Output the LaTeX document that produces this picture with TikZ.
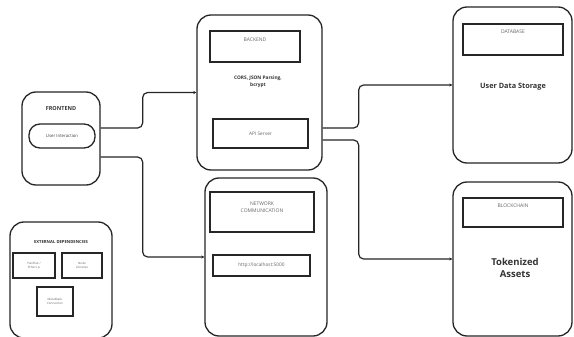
\documentclass[tikz,border=0pt]{standalone}
\usepackage{fontspec}
\setmainfont{Open Sans}
\usetikzlibrary{arrows.meta}
\tikzset{
  x=1pt, y=-1pt,
  panel/.style={draw=black!85, line width=1.3pt, rounded corners=14pt, fill=white},
  tagbox/.style={draw=black!85, line width=1.1pt, fill=white, align=center, text=black!60},
  pill/.style={draw=black!85, line width=1.3pt, rounded corners=11pt, align=center, text=black!75},
  conn/.style={draw=black!85, line width=1.2pt, rounded corners=5pt, -{Stealth[length=3pt,width=3pt]}},
  label/.style={align=center, font=\bfseries, text=black!80},
}
\begin{document}
\begin{tikzpicture}
\useasboundingbox[fill=white] (0,0) rectangle (574,337);

% frontend
\node[panel, minimum width=78pt, minimum height=93pt] (fe) at (61,138.5) {};
\node[label, font=\fontsize{5.5}{6}\selectfont\bfseries] (fet) at (61,109) {FRONTEND};
\node[pill, minimum width=66pt, minimum height=24pt, font=\fontsize{4.3}{5}\selectfont] (ui) at (62,136) {User Interaction};

% external dependencies
\node[panel, minimum width=102pt, minimum height=116pt] (ext) at (61,280) {};
\node[label, font=\fontsize{4.2}{5}\selectfont\bfseries] (extt) at (61,242) {EXTERNAL DEPENDENCIES};
\node[tagbox, minimum width=42pt, minimum height=25pt, font=\fontsize{3}{3.8}\selectfont] (ex1) at (34,265.5) {Hardhat /\\Ethers.js};
\node[tagbox, minimum width=40pt, minimum height=25pt, font=\fontsize{3}{3.8}\selectfont] (ex2) at (82,265.5) {Node\\Libraries};
\node[tagbox, minimum width=36pt, minimum height=29pt, font=\fontsize{3}{3.8}\selectfont] (ex3) at (55,301.5) {MetaMask\\Connection};

% backend
\node[panel, minimum width=125pt, minimum height=155pt] (be) at (259.5,92.5) {};
\node[tagbox, minimum width=90pt, minimum height=31pt] (bet) at (255,46.5) {};
\node[text=black!60, font=\fontsize{5}{6}\selectfont] (betx) at (255,40) {BACKEND};
\node[label, font=\fontsize{4.8}{6.5}\selectfont\bfseries] (mw) at (258,82) {CORS, JSON Parsing,\\bcrypt};
\node[tagbox, minimum width=95pt, minimum height=29pt, font=\fontsize{4.8}{6}\selectfont] (api) at (260.5,133.5) {API Server};

% network communication
\node[panel, minimum width=122pt, minimum height=158pt] (nw) at (266,257) {};
\node[tagbox, minimum width=104pt, minimum height=40pt] (nwt) at (262,212) {};
\node[text=black!60, align=center, font=\fontsize{5}{6.5}\selectfont] (nwtx) at (262,207) {NETWORK\\COMMUNICATION};
\node[tagbox, minimum width=97pt, minimum height=21pt, font=\fontsize{4.8}{6}\selectfont] (url) at (261.5,265.5) {http://localhost:5000};

% database
\node[panel, minimum width=119pt, minimum height=156pt] (db) at (512.5,85) {};
\node[tagbox, minimum width=100pt, minimum height=31pt] (dbt) at (513,39.5) {};
\node[text=black!60, font=\fontsize{5}{6}\selectfont] (dbtx) at (513,32) {DATABASE};
\node[label, font=\fontsize{7.3}{8}\selectfont\bfseries] (store) at (513,87) {User Data Storage};

% blockchain
\node[panel, minimum width=119pt, minimum height=154pt] (bc) at (512.5,259) {};
\node[tagbox, minimum width=100pt, minimum height=29pt] (bct) at (513,212.5) {};
\node[text=black!60, font=\fontsize{5}{6}\selectfont] (bctx) at (513,206) {BLOCKCHAIN};
\node[label, font=\fontsize{9.5}{12.5}\selectfont\bfseries] (tok) at (515,268) {Tokenized\\Assets};

% connectors
\draw[conn] ([yshift=10.5pt]fe.east) -- ++(42,0) |- (be.west);
\draw[conn] ([yshift=-18.5pt]fe.east) -- ++(42,0) |- (nw.west);
\draw[conn] ([yshift=-35.5pt]be.east) -- ++(36,0) |- (db.west);
\draw[conn] ([yshift=-47.5pt]be.east) -- ++(36,0) |- (bc.west);
\end{tikzpicture}
\end{document}
